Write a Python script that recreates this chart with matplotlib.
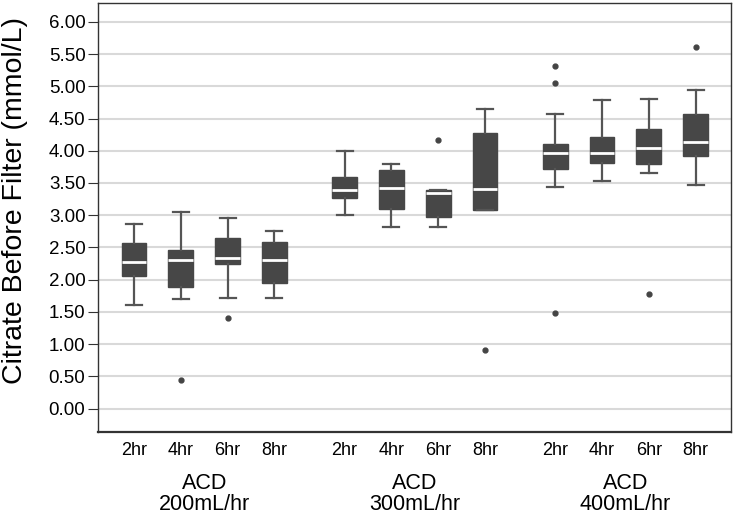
import matplotlib
matplotlib.use("Agg")
import matplotlib.pyplot as plt
import matplotlib.transforms as mtransforms

plt.rcParams['font.family'] = ['Liberation Sans', 'DejaVu Sans']

# values
groups = ["ACD\n200mL/hr", "ACD\n300mL/hr", "ACD\n400mL/hr"]
times = ["2hr", "4hr", "6hr", "8hr"]
whis_lo = [1.61, 1.70, 1.72, 1.72, 3.00, 2.82, 2.82, 3.08, 3.44, 3.53, 3.66, 3.47]
q1 = [2.05, 1.88, 2.25, 1.95, 3.27, 3.09, 2.97, 3.08, 3.71, 3.81, 3.80, 3.92]
med = [2.28, 2.30, 2.33, 2.31, 3.39, 3.43, 3.34, 3.40, 3.96, 3.97, 4.04, 4.14]
q3 = [2.57, 2.46, 2.64, 2.59, 3.60, 3.70, 3.39, 4.28, 4.10, 4.22, 4.33, 4.57]
whis_hi = [2.86, 3.05, 2.96, 2.76, 3.99, 3.80, 3.39, 4.65, 4.57, 4.78, 4.80, 4.95]
fliers = [[], [0.44], [1.40], [], [], [], [4.17], [0.91],
          [5.31, 5.05, 1.49], [], [1.78], [5.61]]

positions = [1, 2, 3, 4, 5.5, 6.5, 7.5, 8.5, 10, 11, 12, 13]

stats = []
for i in range(len(med)):
    stats.append({"whislo": whis_lo[i], "q1": q1[i], "med": med[i],
                  "q3": q3[i], "whishi": whis_hi[i], "fliers": fliers[i]})

fig = plt.figure(figsize=(7.34, 5.16), dpi=100)
ax = fig.add_axes([0.1335, 0.163, 0.862, 0.831])

ax.bxp(stats, positions=positions, widths=0.53, patch_artist=True,
       showfliers=True,
       boxprops=dict(facecolor="#474747", edgecolor="#474747", linewidth=1),
       medianprops=dict(color="white", linewidth=2),
       whiskerprops=dict(color="#555555", linewidth=1.6),
       capprops=dict(color="#555555", linewidth=1.6),
       capwidths=0.34,
       flierprops=dict(marker="o", markersize=3.5, markerfacecolor="#444444",
                       markeredgecolor="#444444"))

ax.set_ylim(-0.36, 6.29)
ax.set_xlim(0.23, 13.75)
ax.set_yticks([i * 0.5 for i in range(13)])
ax.set_yticklabels([f"{i * 0.5:.2f}" for i in range(13)], fontsize=13.5)
ax.set_xticks(positions)
ax.set_xticklabels(times * 3, fontsize=13)
ax.tick_params(axis="x", length=0, pad=7)
ax.tick_params(axis="y", length=7, pad=2, color="#333333")
ax.yaxis.grid(True, color="#d9d9d9", linewidth=1.5)
ax.set_axisbelow(True)
for s in ax.spines.values():
    s.set_color("#333333")
    s.set_linewidth(1)
ax.spines["bottom"].set_linewidth(1.6)
ax.set_ylabel("Citrate Before Filter (mmol/L)", fontsize=20.5)
ax.yaxis.set_label_coords(-0.111, 0.5385)

trans = mtransforms.blended_transform_factory(ax.transData, ax.transAxes)
for g, label in enumerate(groups):
    center = sum(positions[g * 4:g * 4 + 4]) / 4
    ax.text(center, -0.097, label, transform=trans, ha="center", va="top",
            fontsize=15.5, linespacing=0.95)

fig.savefig("out.png", dpi=100)
